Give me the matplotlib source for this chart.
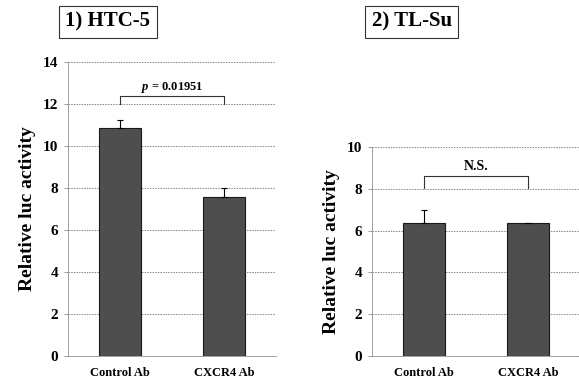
import matplotlib.pyplot as plt

# Data
groups = ['Control Ab', 'CXCR4 Ab']
htc_means = [10.85, 7.57]
htc_err = [0.40, 0.45]
tlsu_means = [6.36, 6.35]
tlsu_err = [0.62, 0.0]

plt.rcParams['font.family'] = 'Liberation Serif'
plt.rcParams['font.weight'] = 'bold'
plt.rcParams['mathtext.fontset'] = 'custom'
plt.rcParams['mathtext.it'] = 'Liberation Serif:italic:bold'
plt.rcParams['mathtext.rm'] = 'Liberation Serif:bold'

fig = plt.figure(figsize=(5.79, 3.83), dpi=100)
ax1 = fig.add_axes([0.1174, 0.0705, 0.359, 0.7675])
ax2 = fig.add_axes([0.6425, 0.0705, 0.359, 0.5455])


def draw_panel(ax, means, errs, ymax, label, bracket_lo, bracket_hi, text_y, text_size):
    x = list(range(len(groups)))
    ax.bar(x, means, width=0.4, color='#4e4e4e', edgecolor='#1a1a1a', linewidth=0.8, zorder=3)
    ax.errorbar(x, means, yerr=[[0] * len(errs), errs], fmt='none', ecolor='black',
                elinewidth=0.8, capsize=2.5, capthick=0.8, zorder=4)
    ax.set_xlim(-0.5, 1.5)
    ax.set_ylim(0, ymax)
    ax.set_yticks(range(0, ymax + 1, 2))
    ax.set_xticks(x)
    ax.set_xticklabels(groups, fontsize=9)
    ax.tick_params(axis='x', length=0, pad=8)
    ax.tick_params(axis='y', labelsize=11, length=3, width=0.6, color='#888888', pad=4)
    ax.yaxis.grid(True, linestyle=(0, (1.5, 1.2)), color='#888888', linewidth=0.7, zorder=0)
    for s in ['top', 'right']:
        ax.spines[s].set_visible(False)
    for s in ['left', 'bottom']:
        ax.spines[s].set_linestyle((0, (1.5, 1.2)))
        ax.spines[s].set_color('#999999')
        ax.spines[s].set_linewidth(0.7)
    ax.set_ylabel('Relative luc activity', fontsize=14, fontweight='bold', labelpad=5)
    # significance bracket
    ax.plot([0, 0, 1, 1], [bracket_lo, bracket_hi, bracket_hi, bracket_lo],
            color='#333333', linewidth=0.8, zorder=4)
    ax.text(0.5, text_y, label, ha='center', va='bottom', fontsize=text_size)


draw_panel(ax1, htc_means, htc_err, 14, r'$p$ = 0.01951', 12.0, 12.4, 12.45, 9)
draw_panel(ax2, tlsu_means, tlsu_err, 10, 'N.S.', 8.05, 8.6, 8.75, 10)

box = dict(boxstyle='square,pad=0.3', facecolor='white', edgecolor='#333333', linewidth=0.8)
fig.text(0.1865, 0.9426, '1) HTC-5', fontsize=15, ha='center', va='center', bbox=box)
fig.text(0.711, 0.9426, '2) TL-Su', fontsize=15, ha='center', va='center', bbox=box)

fig.savefig('out.png', dpi=100)
